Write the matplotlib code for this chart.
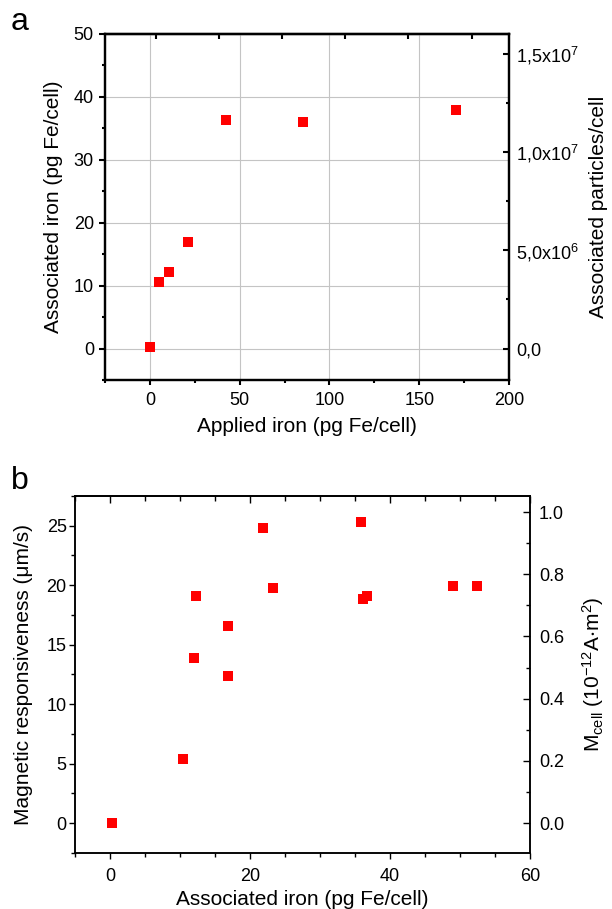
import matplotlib
matplotlib.use('Agg')
import matplotlib.pyplot as plt
from matplotlib.ticker import MultipleLocator, NullFormatter

plt.rcParams['font.family'] = ['Liberation Sans', 'DejaVu Sans']
plt.rcParams['mathtext.fontset'] = 'custom'
plt.rcParams['mathtext.rm'] = 'Liberation Sans'
plt.rcParams['mathtext.it'] = 'Liberation Sans:italic'
plt.rcParams['mathtext.bf'] = 'Liberation Sans:bold'
plt.rcParams['mathtext.default'] = 'regular'

# ---------------- data: panel a ----------------
applied_iron = [0.2, 5.3, 10.6, 21.3, 42.6, 85.2, 170.4]
associated_iron_a = [0.3, 10.5, 12.1, 17.0, 36.3, 36.0, 37.9]
a_xticks = [0, 50, 100, 150, 200]
a_yticks = [0, 10, 20, 30, 40, 50]
a_right_ticks = [0, 5e6, 1e7, 1.5e7]
a_right_labels = ['0,0', r'5,0x10$^{6}$', r'1,0x10$^{7}$', r'1,5x10$^{7}$']
a_top_ticks = [3.2, 38.4, 73.6, 108.8, 144.0, 179.2]
particles_per_pg = 3.2e5

# ---------------- data: panel b ----------------
associated_iron_b = [0.3, 10.5, 12.0, 12.3, 16.8, 16.9, 21.9, 23.3, 35.8, 36.1, 36.7, 49.0, 52.5]
responsiveness = [0.0, 5.4, 13.9, 19.1, 16.6, 12.4, 24.8, 19.8, 25.3, 18.8, 19.1, 19.9, 19.9]
b_xticks = [0, 20, 40, 60]
b_yticks = [0, 5, 10, 15, 20, 25]
b_right_ticks = [0.0, 0.2, 0.4, 0.6, 0.8, 1.0]
b_right_labels = ['0.0', '0.2', '0.4', '0.6', '0.8', '1.0']
um_s_per_mcell = 26.15

RED = '#ff0000'
fig = plt.figure(figsize=(6.12, 9.09), dpi=100)

# ================= panel a =================
axa = fig.add_axes([0.1716, 0.5820, 0.6601, 0.3806])
axa.set_xlim(-25, 200)
axa.set_ylim(-5, 50)
axa.set_xticks(a_xticks)
axa.set_yticks(a_yticks)
axa.xaxis.set_minor_locator(MultipleLocator(25))
axa.yaxis.set_minor_locator(MultipleLocator(5))
axa.grid(True, which='major', color='#c4c4c4', lw=0.8)
axa.set_axisbelow(True)
axa.scatter(applied_iron, associated_iron_a, marker='s', s=55, color=RED,
            linewidths=0, zorder=3)
for sp in axa.spines.values():
    sp.set_linewidth(1.6)
axa.tick_params(axis='y', which='major', direction='out', length=4, width=1.5,
                labelsize=13, pad=4)
axa.tick_params(axis='x', which='major', direction='out', length=3.5, width=1.5,
                labelsize=13, pad=5)
axa.tick_params(which='minor', direction='out', length=2, width=1.5)
axa.set_xlabel('Applied iron (pg Fe/cell)', fontsize=15)
axa.xaxis.set_label_coords(0.5, -0.106)
axa.set_ylabel('Associated iron (pg Fe/cell)', fontsize=15)
axa.yaxis.set_label_coords(-0.104, 0.5)

axa2 = axa.twinx()
axa2.set_ylim(-5 * particles_per_pg, 50 * particles_per_pg)
axa2.set_yticks(a_right_ticks)
axa2.set_yticklabels(a_right_labels)
axa2.yaxis.set_minor_locator(MultipleLocator(2.5e6))
axa2.tick_params(axis='y', which='major', direction='in', length=4.5, width=1.5,
                 labelsize=13, pad=5)
axa2.tick_params(axis='y', which='minor', direction='in', length=2.5, width=1.5)
for sp in axa2.spines.values():
    sp.set_linewidth(1.6)
axa2.set_ylabel('Associated particles/cell', fontsize=15)
axa2.yaxis.set_label_coords(1.198, 0.5)

seca = axa.secondary_xaxis('top')
seca.set_xticks(a_top_ticks)
seca.xaxis.set_major_formatter(NullFormatter())
seca.tick_params(direction='in', length=3.5, width=1.5)
seca.spines['top'].set_linewidth(1.6)

fig.text(10.5 / 612, 1 - 30 / 909, 'a', fontsize=23, ha='left', va='baseline')

# ================= panel b =================
axb = fig.add_axes([0.1225, 0.0619, 0.7435, 0.3924])
axb.set_xlim(-5, 60)
axb.set_ylim(-2.5, 27.5)
axb.set_xticks(b_xticks)
axb.set_yticks(b_yticks)
axb.xaxis.set_minor_locator(MultipleLocator(5))
axb.yaxis.set_minor_locator(MultipleLocator(2.5))
axb.scatter(associated_iron_b, responsiveness, marker='s', s=55, color=RED,
            linewidths=0, zorder=3)
for sp in axb.spines.values():
    sp.set_linewidth(1.1)
axb.tick_params(axis='y', which='major', direction='out', length=4, width=1.0,
                labelsize=13, pad=2)
axb.tick_params(axis='x', which='major', direction='out', length=4, width=1.0,
                labelsize=13, pad=7)
axb.tick_params(which='minor', direction='out', length=3, width=1.0)
axb.set_xlabel('Associated iron (pg Fe/cell)', fontsize=15)
axb.xaxis.set_label_coords(0.5, -0.1046)
axb.set_ylabel('Magnetic responsiveness (\u03bcm/s)', fontsize=15)
axb.yaxis.set_label_coords(-0.0923, 0.5)

axb2 = axb.twinx()
axb2.set_ylim(-2.5 / um_s_per_mcell, 27.5 / um_s_per_mcell)
axb2.set_yticks(b_right_ticks)
axb2.set_yticklabels(b_right_labels)
axb2.yaxis.set_minor_locator(MultipleLocator(0.1))
axb2.tick_params(axis='y', which='major', direction='in', length=5, width=1.0,
                 labelsize=13, pad=6.5)
axb2.tick_params(axis='y', which='minor', direction='in', length=3, width=1.0)
for sp in axb2.spines.values():
    sp.set_linewidth(1.1)
axb2.set_ylabel(r'M$_{cell}$ (10$^{-12}$A$\cdot$m$^{2}$)', fontsize=15)
axb2.yaxis.set_label_coords(1.110, 0.5)

secb = axb.secondary_xaxis('top')
secb.set_xticks(b_xticks)
secb.xaxis.set_minor_locator(MultipleLocator(5))
secb.xaxis.set_major_formatter(NullFormatter())
secb.tick_params(which='major', direction='in', length=5, width=1.0)
secb.tick_params(which='minor', direction='in', length=3.5, width=1.0)
secb.spines['top'].set_linewidth(1.1)

fig.text(10.5 / 612, 1 - 489 / 909, 'b', fontsize=23, ha='left', va='baseline')

fig.savefig('out.png', dpi=100)
